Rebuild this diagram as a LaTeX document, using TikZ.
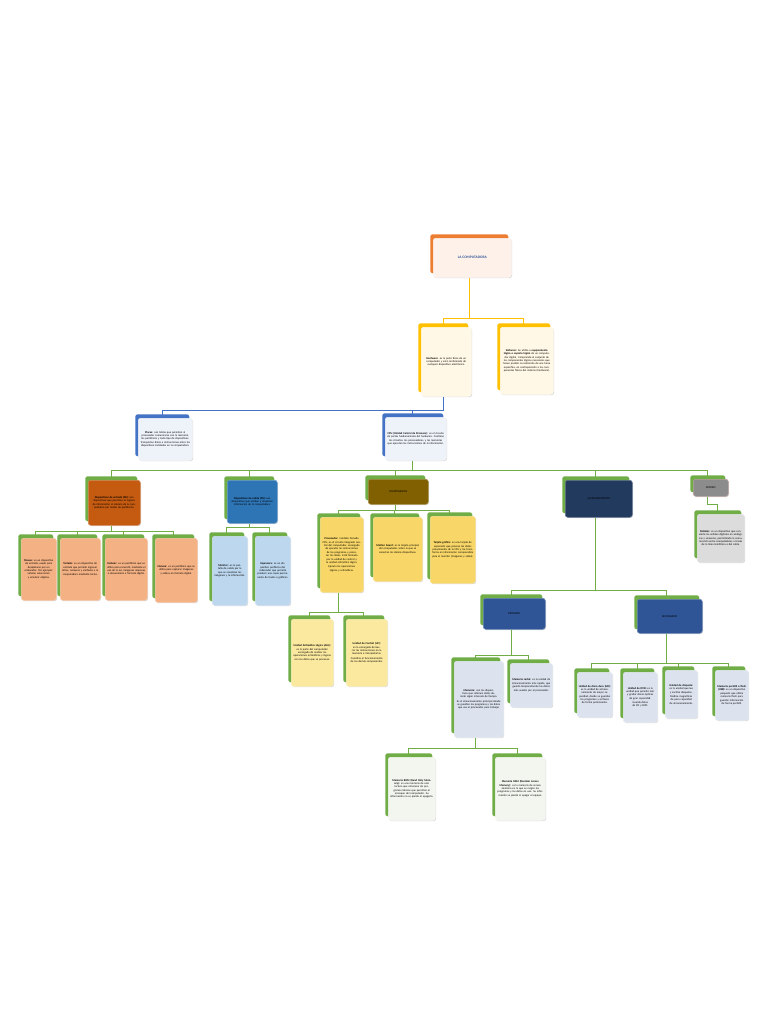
\documentclass[tikz,border=0pt]{standalone}
\usepackage{fontspec}
\setmainfont{Carlito}
\usetikzlibrary{shadows}
\pgfdeclarelayer{bg}\pgfsetlayers{bg,main}
\definecolor{cOrange}{HTML}{ED7D31}
\definecolor{cYellow}{HTML}{FFC000}
\definecolor{cBlue}{HTML}{4472C4}
\definecolor{cGreen}{HTML}{70AD47}
\definecolor{cTopF}{HTML}{FDF1EA}
\definecolor{cHwF}{HTML}{FFF8E6}
\definecolor{cPlF}{HTML}{EEF2F9}
\definecolor{cDeF}{HTML}{C55A11}
\definecolor{cDsF}{HTML}{2E75B6}
\definecolor{cCompF}{HTML}{806000}
\definecolor{cAlmF}{HTML}{223A5E}
\definecolor{cModF}{HTML}{8C8C8C}
\definecolor{cModTF}{HTML}{DCDCDC}
\definecolor{cOrRowF}{HTML}{F4B183}
\definecolor{cBlRowF}{HTML}{BDD7EE}
\definecolor{cYeRowF}{HTML}{F8D768}
\definecolor{cPaleYF}{HTML}{FBE9A0}
\definecolor{cPrimF}{HTML}{2F5597}
\definecolor{cMemF}{HTML}{DCE3EE}
\definecolor{cRomF}{HTML}{F2F6EF}
\definecolor{cTitle}{HTML}{2F5597}
\tikzset{
  card/.style 2 args={general shadow={fill=#1, shadow xshift=-3pt, shadow yshift=4pt},
    drop shadow={shadow xshift=0.8pt, shadow yshift=-0.8pt, opacity=0.3},
    fill=#2, draw=#2!70!white, line width=0.5pt, rounded corners=2.5pt,
    inner xsep=1.5pt, inner ysep=1pt, align=center,
    font=\fontsize{2.75}{3.35}\selectfont},
  conn/.style={draw=#1, line width=0.9pt},
  hdr/.style={font=\fontsize{2.8}{3.3}\selectfont}
}
\newcommand\cardnode[7]{%
  \pgfmathsetmacro\cw{#5-#3}\pgfmathsetmacro\ch{#6-#4}\pgfmathsetmacro\tw{#5-#3-3}%
  \node[#2, minimum width=\cw pt, minimum height=\ch pt, text width=\tw pt, anchor=north west] (#1) at (#3,#4) {#7};}
\newcommand\tedge[4]{%
  \draw[conn=#1] ([xshift=-3pt]#2.south) coordinate (tmpa) -- (tmpa |- #3) -| ([xshift=-3pt]#4.north);}
\begin{document}
\begin{tikzpicture}[x=1pt,y=-1pt]
\useasboundingbox (0,0) rectangle (768,1024);
% bus coordinates
\coordinate (b1) at (0,318);
\coordinate (b2) at (0,410);
\coordinate (b3) at (0,470);
\coordinate (b4) at (0,531);
\coordinate (b5) at (0,527);
\coordinate (b6) at (0,510);
\coordinate (b7) at (0,590);
\coordinate (b8) at (0,504);
\coordinate (b9) at (0,612);
\coordinate (b10) at (0,655);
\coordinate (b11) at (0,663);
\coordinate (b12) at (0,748);
% level 1
\cardnode{top}{card={cOrange}{cTopF}}{433}{238}{511}{277}{\fontsize{3.6}{4}\selectfont\bfseries\color{cTitle}LA COMPUTADORA}
% level 2
\cardnode{hw}{card={cYellow}{cHwF}}{421}{327}{471}{396}{\textbf{Hardware:} es la parte física de un computador y está conformado de cualquier dispositivo electrónico.}
\cardnode{sw}{card={cYellow}{cHwF}}{500}{327}{553}{394}{\textbf{Software:} Se utiliza o \textbf{equipamiento lógico o soporte lógico} de un computador digital. Comprende el conjunto de los componentes lógicos necesarios que hacen posible la realización de una tarea específica, en contraposición a los componentes físicos del sistema (hardware).}
% level 3
\cardnode{placas}{card={cBlue}{cPlF}}{138}{418}{192}{460}{\textbf{Placas:} son tablas que permiten al procesador comunicarse con la memoria, los periféricos y todo tipo de dispositivos. Transportan datos e instrucciones entre los dispositivos instalados en la computadora.}
\cardnode{cpu}{card={cBlue}{cPlF}}{385}{417}{446}{460}{\textbf{CPU (Unidad Central de Procesos):} es el circuito de partes fundamentales del hardware. Contiene los circuitos, los procesadores, y las memorias que ejecutan las instrucciones de la información.}
% level 4
\cardnode{de}{card={cGreen}{cDeF}}{88}{480}{140}{525}{\textbf{Dispositivos de entrada (DE):} son dispositivos que permiten el ingreso de información al sistema de la computadora por medio de periféricos.}
\cardnode{ds}{card={cGreen}{cDsF}}{227}{480}{277}{523}{\textbf{Dispositivos de salida (DS):} son dispositivos que reciben y muestran información de la computadora.}
\cardnode{comp}{card={cGreen}{cCompF},hdr}{368}{479}{428}{504}{COMPONENTES}
\cardnode{alm}{card={cGreen}{cAlmF},hdr}{565}{480}{632}{517}{ALMACENAMIENTO}
\cardnode{modem}{card={cGreen}{cModF},draw=cModF!60!pink,hdr}{693}{479}{728}{496}{MODEM}
% modem child
\cardnode{modemtxt}{card={cGreen}{cModTF}}{697}{514}{744}{562}{\textbf{Módem:} es un dispositivo que convierte las señales digitales en analógicas y viceversa, permitiendo la comunicación entre computadoras a través de la línea telefónica o del cable.}
% orange row
\cardnode{mouse}{card={cGreen}{cOrRowF}}{21}{538}{56}{600}{\textbf{Mouse:} es un dispositivo de entrada, usado para desplazarse por un ordenador. Por ejemplo: señalar, seleccionar y arrastrar objetos.}
\cardnode{teclado}{card={cGreen}{cOrRowF}}{60}{538}{100}{600}{\textbf{Teclado:} es un dispositivo de entrada que permite ingresar letras, números y símbolos a la computadora mediante teclas.}
\cardnode{escaner}{card={cGreen}{cOrRowF}}{105}{538}{147}{600}{\textbf{Escáner:} es un periférico que se utiliza para convertir, mediante el uso de la luz, imágenes impresas o documentos a formato digital.}
\cardnode{camara}{card={cGreen}{cOrRowF}}{155}{538}{197}{602}{\textbf{Cámara:} es un periférico que se utiliza para capturar imágenes y videos en formato digital.}
% blue row
\cardnode{monitor}{card={cGreen}{cBlRowF}}{212}{536}{247}{605}{\textbf{Monitor:} es la pantalla de salida por la que se visualizan las imágenes y la información.}
\cardnode{impresora}{card={cGreen}{cBlRowF}}{255}{536}{290}{605}{\textbf{Impresora:} es un dispositivo periférico del ordenador que permite producir una copia permanente de textos o gráficos.}
% yellow row
\cardnode{proc}{card={cGreen}{cYeRowF}}{320}{517}{363}{592}{\textbf{Procesador:} también llamado CPU, es el circuito integrado central del computador, encargado de ejecutar las instrucciones de los programas y procesar los datos. Está formado por la unidad de control y la unidad aritmético lógica.\\[1pt] Ejecuta las operaciones lógicas y aritméticas.}
\cardnode{mother}{card={cGreen}{cYeRowF}}{373}{517}{422}{581}{\textbf{Mother board:} es la tarjeta principal del computador, sobre la que se conectan los demás dispositivos.}
\cardnode{tarjeta}{card={cGreen}{cYeRowF}}{430}{516}{475}{583}{\textbf{Tarjeta gráfica:} es una tarjeta de expansión que procesa los datos provenientes de la CPU y los transforma en información comprensible para el monitor (imágenes y video).}
% procesador children
\cardnode{alu}{card={cGreen}{cPaleYF}}{291}{619}{333}{686}{\textbf{Unidad Aritmético Lógica (ALU):} es la parte del computador encargada de realizar las operaciones aritméticas y lógicas con los datos que se procesan.}
\cardnode{uc}{card={cGreen}{cPaleYF}}{346}{619}{387}{686}{\textbf{Unidad de Control (UC):} es la encargada de buscar las instrucciones en la memoria e interpretarlas.\\[1pt] Coordina el funcionamiento de los demás componentes.}
% almacenamiento children
\cardnode{prim}{card={cGreen}{cPrimF},hdr}{483}{598}{545}{629}{PRIMARIO}
\cardnode{sec}{card={cGreen}{cPrimF},hdr}{637}{599}{702}{633}{SECUNDARIO}
% primario children
\cardnode{memoria}{card={cGreen}{cMemF}}{454}{661}{503}{737}{\textbf{Memoria:} son los dispositivos que retienen datos durante algún intervalo de tiempo.\\[1pt] Es el almacenamiento principal donde se guardan los programas y los datos que usa el procesador para trabajar.}
\cardnode{cache}{card={cGreen}{cMemF}}{510}{663}{552}{707}{\textbf{Memoria caché:} es la unidad de almacenamiento más rápida, que guarda temporalmente los datos más usados por el procesador.}
% memoria children
\cardnode{rom}{card={cGreen}{cRomF}}{388}{757}{435}{820}{\textbf{Memoria ROM (Read Only Memory):} es una memoria de solo lectura que almacena los programas básicos que permiten el arranque del computador. Su información no se pierde al apagarlo.}
\cardnode{ram}{card={cGreen}{cRomF}}{495}{757}{545}{820}{\textbf{Memoria RAM (Random Access Memory):} es la memoria de acceso aleatorio en la que se cargan los programas y los datos en uso. Su información se pierde al apagar el equipo.}
% secundario children
\cardnode{hd}{card={cGreen}{cMemF}}{577}{672}{612}{717}{\textbf{Unidad de disco duro (HD):} es la unidad de almacenamiento de mayor capacidad, donde se guardan los programas y archivos de forma permanente.}
\cardnode{dvd}{card={cGreen}{cMemF}}{623}{672}{657}{722}{\textbf{Unidad de DVD:} es la unidad que permite leer y grabar discos ópticos de gran capacidad.\\[1pt] Guarda datos de CD y DVD.}
\cardnode{disq}{card={cGreen}{cMemF}}{665}{670}{697}{718}{\textbf{Unidad de disquete:} es la unidad que lee y escribe disquetes.\\[1pt] Medios magnéticos de poca capacidad de almacenamiento.}
\cardnode{flash}{card={cGreen}{cMemF}}{715}{670}{748}{720}{\textbf{Memoria portátil o flash (USB):} es un dispositivo pequeño que utiliza memoria flash para guardar información de forma portátil.}
% background and connectors
\begin{pgfonlayer}{bg}
\fill[white] (0,0) rectangle (768,1024);
\tedge{cYellow}{top}{b1}{hw}
\tedge{cYellow}{top}{b1}{sw}
\tedge{cBlue}{hw}{b2}{placas}
\tedge{cBlue}{hw}{b2}{cpu}
\tedge{cGreen}{cpu}{b3}{de}
\tedge{cGreen}{cpu}{b3}{ds}
\tedge{cGreen}{cpu}{b3}{comp}
\tedge{cGreen}{cpu}{b3}{alm}
\tedge{cGreen}{cpu}{b3}{modem}
\tedge{cGreen}{modem}{b8}{modemtxt}
\tedge{cGreen}{de}{b4}{mouse}
\tedge{cGreen}{de}{b4}{teclado}
\tedge{cGreen}{de}{b4}{escaner}
\tedge{cGreen}{de}{b4}{camara}
\tedge{cGreen}{ds}{b5}{monitor}
\tedge{cGreen}{ds}{b5}{impresora}
\tedge{cGreen}{comp}{b6}{proc}
\tedge{cGreen}{comp}{b6}{mother}
\tedge{cGreen}{comp}{b6}{tarjeta}
\tedge{cGreen}{proc}{b9}{alu}
\tedge{cGreen}{proc}{b9}{uc}
\tedge{cGreen}{alm}{b7}{prim}
\tedge{cGreen}{alm}{b7}{sec}
\tedge{cGreen}{prim}{b10}{memoria}
\tedge{cGreen}{prim}{b10}{cache}
\tedge{cGreen}{sec}{b11}{hd}
\tedge{cGreen}{sec}{b11}{dvd}
\tedge{cGreen}{sec}{b11}{disq}
\tedge{cGreen}{sec}{b11}{flash}
\tedge{cGreen}{memoria}{b12}{rom}
\tedge{cGreen}{memoria}{b12}{ram}
\end{pgfonlayer}
\end{tikzpicture}
\end{document}
